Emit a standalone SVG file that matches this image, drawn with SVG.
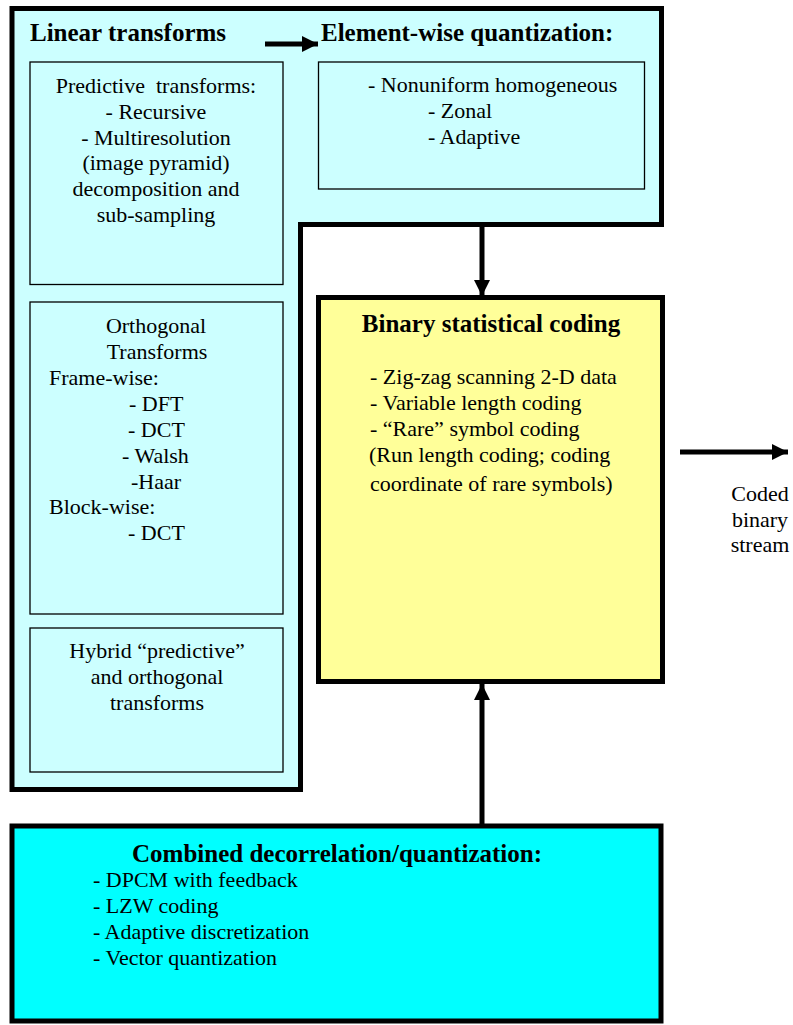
<svg xmlns="http://www.w3.org/2000/svg" width="793" height="1025" viewBox="0 0 793 1025">
<style>
text{font-family:"Liberation Serif","Times New Roman",serif;fill:#000}
.t{font-size:22px}
.b{font-size:25px;font-weight:bold}
.m{text-anchor:middle}
.thick{stroke:#000;stroke-width:5}
.thin{fill:none;stroke:#000;stroke-width:1.3}
.conn{stroke:#000;stroke-width:5;fill:none}
</style>
<defs>
<marker id="ah" markerUnits="userSpaceOnUse" markerWidth="18" markerHeight="18" refX="16" refY="8" orient="auto">
<path d="M0,0 L16,8 L0,16 Z" fill="#000"/>
</marker>
</defs>
<rect width="793" height="1025" fill="#fff"/>

<g id="lossy-stage">
<path class="thick" fill="#ccffff" d="M12,8.5 H661.5 V224.5 H300.5 V789.5 H12 Z"/>
<text class="b" x="30" y="41">Linear transforms</text>
<text class="b" x="321" y="41">Element-wise quantization:</text>
</g>

<g id="predictive">
<rect class="thin" x="30" y="62" width="253" height="222.5"/>
<text class="t m" x="156" y="93" xml:space="preserve" style="white-space:pre">Predictive  transforms:</text>
<text class="t m" x="156" y="119">- Recursive</text>
<text class="t m" x="156" y="145">- Multiresolution</text>
<text class="t m" x="156" y="170">(image pyramid)</text>
<text class="t m" x="156" y="196">decomposition and</text>
<text class="t m" x="156" y="222">sub-sampling</text>
</g>

<g id="orthogonal">
<rect class="thin" x="30" y="302" width="253" height="312"/>
<text class="t m" x="156" y="333">Orthogonal</text>
<text class="t m" x="157" y="359">Transforms</text>
<text class="t" x="49" y="385">Frame-wise:</text>
<text class="t" x="129" y="411">- DFT</text>
<text class="t" x="128" y="437">- DCT</text>
<text class="t" x="122" y="463">- Walsh</text>
<text class="t" x="131" y="489">-Haar</text>
<text class="t" x="49" y="514">Block-wise:</text>
<text class="t" x="128" y="540">- DCT</text>
</g>

<g id="hybrid">
<rect class="thin" x="30" y="628" width="253" height="144"/>
<text class="t m" x="157" y="658">Hybrid “predictive”</text>
<text class="t m" x="157" y="684">and orthogonal</text>
<text class="t m" x="157" y="710">transforms</text>
</g>

<g id="elementwise">
<rect class="thin" x="318.5" y="62" width="326" height="127"/>
<text class="t" x="368" y="92">- Nonuniform homogeneous</text>
<text class="t" x="428" y="118">- Zonal</text>
<text class="t" x="428" y="144">- Adaptive</text>
</g>

<g id="binary-coding">
<rect class="thick" fill="#ffff99" x="318.5" y="297.5" width="344" height="384"/>
<text class="b m" x="491" y="332">Binary statistical coding</text>
<text class="t" x="370" y="384">- Zig-zag scanning 2-D data</text>
<text class="t" x="370" y="410">- Variable length coding</text>
<text class="t" x="370" y="436">- “Rare” symbol coding</text>
<text class="t" x="369" y="462">(Run length coding; coding</text>
<text class="t" x="370" y="491">coordinate of rare symbols)</text>
</g>

<g id="combined">
<rect class="thick" fill="#00ffff" x="12" y="826" width="649" height="195"/>
<text class="b m" x="337" y="862">Combined decorrelation/quantization:</text>
<text class="t" x="93" y="887">- DPCM with feedback</text>
<text class="t" x="93" y="913">- LZW coding</text>
<text class="t" x="93" y="939">- Adaptive discretization</text>
<text class="t" x="93" y="965">- Vector quantization</text>
</g>

<g id="output-label">
<text class="t m" x="760" y="501">Coded</text>
<text class="t m" x="760" y="527">binary</text>
<text class="t m" x="760" y="552">stream</text>
</g>

<g id="connectors">
<line class="conn" x1="265" y1="44" x2="318" y2="44" marker-end="url(#ah)"/>
<line class="conn" x1="482" y1="227" x2="482" y2="296" marker-end="url(#ah)"/>
<line class="conn" x1="482" y1="824" x2="482" y2="684" marker-end="url(#ah)"/>
<line class="conn" x1="680" y1="452" x2="788" y2="452" marker-end="url(#ah)"/>
</g>
</svg>
